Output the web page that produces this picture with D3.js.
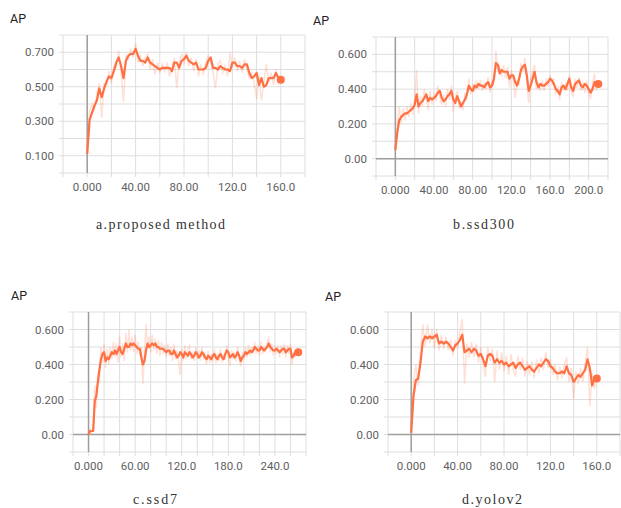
<!DOCTYPE html>
<html>
<head>
<meta charset="utf-8">
<script src="https://cdn.jsdelivr.net/npm/d3@7"></script>
<style>
  body { margin: 0; background: #fff; }
  svg { display: block; }
  .tick-label { font-family: Roboto, "Noto Sans", sans-serif; font-size: 11.5px; fill: #5f5f5f; }
  .ap { font-family: Roboto, "Noto Sans", sans-serif; font-size: 12.5px; fill: #222; }
  .caption { font-family: "Liberation Serif", "DejaVu Serif", serif; font-size: 14px; fill: #333; }
</style>
</head>
<body>
<svg id="chart" width="621" height="508"></svg>
<script>
// a. proposed method (steps 0..160, every 2)
const stepsA = d3.range(0, 161, 2);
const apA = [0.11, 0.31, 0.35, 0.39, 0.42, 0.49, 0.44, 0.49, 0.53, 0.56, 0.55, 0.59, 0.64, 0.67, 0.62, 0.55,
  0.65, 0.68, 0.69, 0.69, 0.72, 0.68, 0.65, 0.65, 0.64, 0.67, 0.64, 0.63, 0.62, 0.61, 0.60, 0.61, 0.61, 0.61,
  0.61, 0.59, 0.64, 0.64, 0.61, 0.65, 0.66, 0.68, 0.65, 0.64, 0.63, 0.64, 0.60, 0.60, 0.60, 0.61, 0.65, 0.67,
  0.61, 0.61, 0.60, 0.62, 0.61, 0.60, 0.60, 0.59, 0.64, 0.64, 0.62, 0.62, 0.61, 0.63, 0.63, 0.58, 0.55, 0.56,
  0.58, 0.51, 0.55, 0.50, 0.51, 0.55, 0.55, 0.55, 0.58, 0.55, 0.54];
const rawA = [0.11, 0.36, 0.40, 0.37, 0.46, 0.52, 0.32, 0.52, 0.51, 0.59, 0.52, 0.62, 0.61, 0.71, 0.58, 0.41,
  0.68, 0.66, 0.72, 0.67, 0.75, 0.64, 0.68, 0.62, 0.67, 0.69, 0.60, 0.66, 0.57, 0.64, 0.58, 0.63, 0.59, 0.64,
  0.56, 0.61, 0.67, 0.49, 0.64, 0.69, 0.63, 0.70, 0.62, 0.67, 0.59, 0.66, 0.56, 0.63, 0.57, 0.64, 0.68, 0.64,
  0.58, 0.49, 0.63, 0.65, 0.58, 0.62, 0.56, 0.70, 0.61, 0.67, 0.59, 0.65, 0.58, 0.66, 0.60, 0.55, 0.58, 0.52,
  0.43, 0.56, 0.42, 0.53, 0.63, 0.52, 0.58, 0.51, 0.60, 0.52, 0.56];

// b. ssd300 (steps 0..210, every 2)
const stepsB = d3.range(0, 211, 2);
const apB = [0.05, 0.15, 0.22, 0.24, 0.25, 0.26, 0.26, 0.27, 0.28, 0.29, 0.31, 0.37, 0.30, 0.32, 0.33, 0.35,
  0.37, 0.33, 0.35, 0.34, 0.35, 0.36, 0.38, 0.39, 0.35, 0.33, 0.34, 0.36, 0.37, 0.39, 0.34, 0.32, 0.36, 0.33,
  0.30, 0.32, 0.34, 0.37, 0.42, 0.40, 0.39, 0.42, 0.41, 0.43, 0.42, 0.42, 0.41, 0.43, 0.44, 0.41, 0.42, 0.46,
  0.55, 0.54, 0.49, 0.51, 0.50, 0.50, 0.50, 0.46, 0.48, 0.48, 0.44, 0.42, 0.46, 0.51, 0.53, 0.54, 0.48, 0.39,
  0.42, 0.46, 0.50, 0.44, 0.41, 0.43, 0.42, 0.42, 0.43, 0.44, 0.46, 0.45, 0.43, 0.40, 0.39, 0.37, 0.41, 0.42,
  0.40, 0.43, 0.46, 0.41, 0.39, 0.43, 0.44, 0.45, 0.42, 0.41, 0.43, 0.42, 0.40, 0.38, 0.40, 0.44, 0.42, 0.43];
const rawB = [0.04, 0.20, 0.30, 0.20, 0.29, 0.22, 0.30, 0.24, 0.32, 0.25, 0.34, 0.51, 0.26, 0.36, 0.30, 0.40,
  0.34, 0.28, 0.39, 0.31, 0.38, 0.33, 0.42, 0.36, 0.31, 0.37, 0.30, 0.40, 0.34, 0.42, 0.27, 0.35, 0.39, 0.29,
  0.33, 0.28, 0.38, 0.34, 0.46, 0.37, 0.43, 0.38, 0.45, 0.40, 0.45, 0.39, 0.44, 0.40, 0.47, 0.38, 0.45, 0.43,
  0.62, 0.50, 0.53, 0.47, 0.54, 0.46, 0.53, 0.41, 0.51, 0.45, 0.35, 0.45, 0.43, 0.55, 0.50, 0.58, 0.44, 0.32,
  0.46, 0.50, 0.54, 0.40, 0.44, 0.39, 0.45, 0.39, 0.46, 0.41, 0.48, 0.43, 0.46, 0.37, 0.42, 0.34, 0.44, 0.39,
  0.43, 0.39, 0.48, 0.38, 0.36, 0.46, 0.41, 0.47, 0.39, 0.44, 0.38, 0.45, 0.37, 0.35, 0.43, 0.49, 0.39, 0.44];

// c. ssd7 (steps 0..270, every 2)
const stepsC = d3.range(0, 271, 2);
const apC = [0.00, 0.02, 0.02, 0.02, 0.19, 0.22, 0.30, 0.37, 0.43, 0.46, 0.47, 0.42, 0.44, 0.43, 0.45, 0.47,
  0.46, 0.48, 0.46, 0.48, 0.50, 0.47, 0.46, 0.49, 0.52, 0.50, 0.50, 0.52, 0.51, 0.52, 0.51, 0.50, 0.49, 0.49,
  0.44, 0.40, 0.42, 0.48, 0.52, 0.50, 0.51, 0.52, 0.51, 0.52, 0.50, 0.50, 0.49, 0.49, 0.49, 0.48, 0.47,
  0.48, 0.48, 0.46, 0.46, 0.48, 0.46, 0.44, 0.45, 0.47, 0.46, 0.44, 0.47, 0.46, 0.45, 0.47, 0.46, 0.44, 0.45,
  0.47, 0.46, 0.44, 0.45, 0.47, 0.46, 0.44, 0.43, 0.45, 0.44, 0.43, 0.45, 0.46, 0.44, 0.43, 0.45, 0.46, 0.44,
  0.43, 0.46, 0.48, 0.47, 0.44, 0.45, 0.46, 0.44, 0.45, 0.47, 0.45, 0.42, 0.44, 0.45, 0.47, 0.46, 0.47, 0.48,
  0.47, 0.48, 0.50, 0.49, 0.48, 0.48, 0.50, 0.49, 0.48, 0.49, 0.50, 0.52, 0.50, 0.49, 0.48, 0.48, 0.49, 0.48,
  0.47, 0.48, 0.49, 0.49, 0.47, 0.48, 0.49, 0.49, 0.44, 0.45, 0.47, 0.46, 0.47];
const rawC = [0.00, 0.03, 0.01, 0.03, 0.28, 0.15, 0.35, 0.30, 0.50, 0.41, 0.52, 0.38, 0.49, 0.40, 0.50, 0.43,
  0.53, 0.44, 0.52, 0.41, 0.56, 0.44, 0.52, 0.42, 0.58, 0.47, 0.60, 0.48, 0.56, 0.47, 0.57, 0.46, 0.53, 0.45,
  0.50, 0.29, 0.47, 0.63, 0.49, 0.56, 0.47, 0.57, 0.48, 0.55, 0.46, 0.54, 0.45, 0.53, 0.46, 0.51, 0.44,
  0.52, 0.45, 0.50, 0.42, 0.52, 0.43, 0.48, 0.41, 0.34, 0.49, 0.42, 0.51, 0.43, 0.49, 0.51, 0.43, 0.47, 0.42,
  0.50, 0.43, 0.48, 0.42, 0.50, 0.43, 0.47, 0.40, 0.48, 0.41, 0.46, 0.42, 0.49, 0.41, 0.46, 0.42, 0.49, 0.41,
  0.46, 0.43, 0.51, 0.44, 0.39, 0.48, 0.43, 0.47, 0.42, 0.50, 0.43, 0.39, 0.47, 0.43, 0.50, 0.44, 0.51, 0.45,
  0.50, 0.46, 0.53, 0.46, 0.51, 0.45, 0.53, 0.46, 0.51, 0.47, 0.53, 0.55, 0.47, 0.52, 0.45, 0.51, 0.46, 0.51,
  0.44, 0.51, 0.46, 0.52, 0.44, 0.51, 0.46, 0.52, 0.40, 0.47, 0.44, 0.49, 0.46];

// d. yolov2 (steps 0..160, every 2)
const stepsD = d3.range(0, 161, 2);
const apD = [0.01, 0.22, 0.31, 0.32, 0.41, 0.53, 0.56, 0.55, 0.56, 0.55, 0.56, 0.57, 0.52, 0.53, 0.52, 0.53,
  0.52, 0.50, 0.48, 0.51, 0.52, 0.54, 0.57, 0.47, 0.48, 0.49, 0.47, 0.49, 0.48, 0.45, 0.46, 0.43, 0.39, 0.45,
  0.46, 0.45, 0.41, 0.43, 0.41, 0.42, 0.40, 0.41, 0.39, 0.40, 0.41, 0.38, 0.40, 0.41, 0.39, 0.37, 0.38, 0.39,
  0.37, 0.36, 0.38, 0.40, 0.39, 0.41, 0.43, 0.42, 0.39, 0.38, 0.36, 0.35, 0.35, 0.36, 0.35, 0.39, 0.35, 0.34,
  0.30, 0.32, 0.34, 0.33, 0.35, 0.37, 0.43, 0.38, 0.28, 0.32, 0.32];
const rawD = [0.01, 0.30, 0.40, 0.28, 0.47, 0.63, 0.50, 0.63, 0.52, 0.60, 0.49, 0.60, 0.48, 0.57, 0.49, 0.56,
  0.48, 0.54, 0.45, 0.54, 0.49, 0.59, 0.66, 0.29, 0.52, 0.44, 0.53, 0.44, 0.52, 0.41, 0.50, 0.40, 0.33, 0.50,
  0.42, 0.49, 0.30, 0.48, 0.37, 0.47, 0.36, 0.45, 0.34, 0.46, 0.37, 0.33, 0.45, 0.37, 0.44, 0.33, 0.42, 0.34,
  0.42, 0.32, 0.43, 0.35, 0.44, 0.37, 0.47, 0.38, 0.43, 0.34, 0.40, 0.31, 0.39, 0.32, 0.40, 0.44, 0.30, 0.38,
  0.20, 0.36, 0.29, 0.38, 0.30, 0.41, 0.50, 0.16, 0.35, 0.26, 0.34];

const captions = ['a.proposed method', 'b.ssd300', 'c.ssd7', 'd.yolov2'];

const panels = [
  {steps: stepsA, ap: apA, raw: rawA, caption: captions[0],
   box: {l: 63, r: 305, t: 35, b: 173}, xDom: [-20, 180], yDom: [0, 0.8], xLab: 40, yLab: [0.1, 0.3, 0.5, 0.7],
   apPos: [10, 23], capPos: [96, 229], capW: 129},
  {steps: stepsB, ap: apB, raw: rawB, caption: captions[1],
   box: {l: 376, r: 608, t: 37, b: 176}, xDom: [-20, 220], yDom: [-0.1, 0.7], xLab: 40, yLab: [0, 0.2, 0.4, 0.6],
   apPos: [313, 25], capPos: [453, 229], capW: 61},
  {steps: stepsC, ap: apC, raw: rawC, caption: captions[2],
   box: {l: 73, r: 306, t: 312, b: 452}, xDom: [-20, 280], yDom: [-0.1, 0.7], xLab: 60, yLab: [0, 0.2, 0.4, 0.6],
   apPos: [11, 300], capPos: [133, 504], capW: 44},
  {steps: stepsD, ap: apD, raw: rawD, caption: captions[3],
   box: {l: 388, r: 620, t: 312, b: 452}, xDom: [-20, 180], yDom: [-0.1, 0.7], xLab: 40, yLab: [0, 0.2, 0.4, 0.6],
   apPos: [325, 301], capPos: [462, 504], capW: 60}
];

const svg = d3.select('#chart');
const xFmt = d3.format('.4r');
const yFmt = d3.format('.3r');

function drawPanel(p) {
  const g = svg.append('g');
  const x = d3.scaleLinear().domain(p.xDom).range([p.box.l, p.box.r]);
  const y = d3.scaleLinear().domain(p.yDom).range([p.box.b, p.box.t]);

  const xGrid = d3.range(p.xDom[0], p.xDom[1] + 1, 20);
  const yGrid = d3.range(Math.round(p.yDom[0] * 10), Math.round(p.yDom[1] * 10) + 1).map(v => v / 10);

  // grid, with short outward ticks
  g.append('g').selectAll('line').data(xGrid).enter().append('line')
    .attr('x1', d => x(d)).attr('x2', d => x(d))
    .attr('y1', p.box.t).attr('y2', p.box.b + 4)
    .attr('stroke', '#dedede').attr('stroke-width', 1);
  g.append('g').selectAll('line').data(yGrid).enter().append('line')
    .attr('x1', p.box.l - 4).attr('x2', p.box.r)
    .attr('y1', d => y(d)).attr('y2', d => y(d))
    .attr('stroke', '#dedede').attr('stroke-width', 1);

  // zero lines
  if (p.yDom[0] < 0) {
    g.append('line')
      .attr('x1', p.box.l).attr('x2', p.box.r)
      .attr('y1', y(0)).attr('y2', y(0))
      .attr('stroke', '#9e9e9e').attr('stroke-width', 1.5);
  }
  g.append('line')
    .attr('x1', x(0)).attr('x2', x(0))
    .attr('y1', p.box.t).attr('y2', p.box.b)
    .attr('stroke', '#9e9e9e').attr('stroke-width', 1.5);

  // tick labels
  g.append('g').selectAll('text').data(xGrid.filter(d => d >= 0 && d % p.xLab === 0)).enter().append('text')
    .attr('class', 'tick-label')
    .attr('x', d => x(d)).attr('y', p.box.b + 18)
    .attr('text-anchor', 'middle')
    .text(d => xFmt(d));
  g.append('g').selectAll('text').data(p.yLab).enter().append('text')
    .attr('class', 'tick-label')
    .attr('x', p.box.l - 9).attr('y', d => y(d))
    .attr('dy', '0.35em')
    .attr('text-anchor', 'end')
    .text(d => yFmt(d));

  // raw and smoothed lines
  const line = d3.line().x(d => x(d[0])).y(d => y(d[1]));
  const rawPts = p.steps.map((s, i) => [s, p.raw[i]]);
  const apPts = p.steps.map((s, i) => [s, p.ap[i]]);
  g.append('path').datum(rawPts)
    .attr('d', line).attr('fill', 'none')
    .attr('stroke', '#ff7043').attr('stroke-opacity', 0.22).attr('stroke-width', 1.5);
  g.append('path').datum(apPts)
    .attr('d', line).attr('fill', 'none')
    .attr('stroke', '#ff7043').attr('stroke-width', 2.2).attr('stroke-linejoin', 'round');
  const last = apPts[apPts.length - 1];
  g.append('circle')
    .attr('cx', x(last[0])).attr('cy', y(last[1])).attr('r', 4)
    .attr('fill', '#ff7043');

  g.append('text').attr('class', 'ap')
    .attr('x', p.apPos[0]).attr('y', p.apPos[1]).text('AP');
  g.append('text').attr('class', 'caption')
    .attr('x', p.capPos[0]).attr('y', p.capPos[1])
    .attr('textLength', p.capW).attr('lengthAdjust', 'spacing')
    .text(p.caption);
}

panels.forEach(drawPanel);
</script>
</body>
</html>
